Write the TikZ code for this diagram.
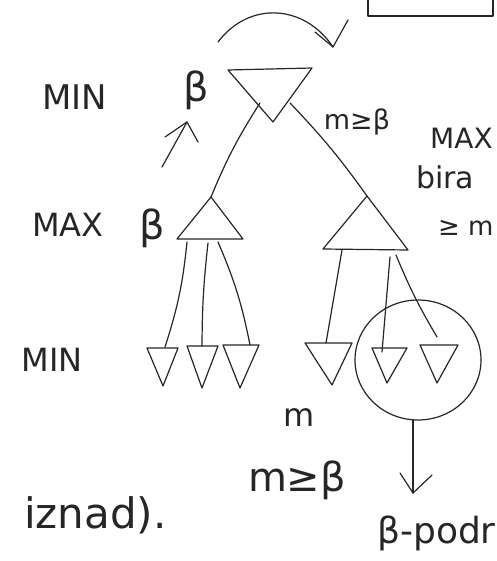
\documentclass[tikz,border=0pt]{standalone}
\usepackage{fontspec}
\setmainfont{DejaVu Sans}
\begin{document}
\begin{tikzpicture}[x=1pt,y=-1pt,line cap=round,line join=round,
  hand/.style={draw=black!85,line width=1.2pt},
  lbl/.style={inner sep=0pt,text=black!85},
  big/.style={lbl,font=\fontsize{34}{40}\selectfont},
  mid/.style={lbl,font=\fontsize{30}{36}\selectfont},
  greek/.style={lbl,font=\fontsize{40}{46}\selectfont}]
\useasboundingbox (0,0) rectangle (496,561);
\clip (0,0) rectangle (496,561);

% rectangle at top right (cut)
\draw[hand] (368,-5) -- (368,16) -- (493,16) -- (493,-5);

% curved arrow
\coordinate (cs) at (218,42);
\coordinate (ct) at (333,47);
\draw[hand] (cs) .. controls (250,0) and (305,5) .. (ct);
\draw[hand] (315,32) -- (ct) -- (348,20);

% root MIN triangle
\coordinate (rA) at (228,70);
\coordinate (rB) at (312,68);
\coordinate (rC) at (273,122);
\draw[hand] (rA) -- (rB) -- (rC) -- cycle;
\coordinate (r1) at (260,103);
\coordinate (r2) at (290,103);

% left MAX
\coordinate (lA) at (211,197);
\coordinate (lB) at (177,239);
\coordinate (lC) at (243,239);
\draw[hand] (lA) -- (lB) -- (lC) -- cycle;
% right MAX
\coordinate (mA) at (367,196);
\coordinate (mB) at (323,249);
\coordinate (mC) at (408,250);
\draw[hand] (mA) -- (mB) -- (mC) -- cycle;

\draw[hand] (r1) to[bend right=5] (lA);
\draw[hand] (r2) to[bend left=4] (mA);

% bottom MIN triangles
\foreach \n/\a/\b/\c/\ty/\tx/\tt in {1/147/178/163/348/163/386, 2/187/218/202/346/202/388, 3/223/259/240/345/240/388,
  4/305/352/332/343/332/385, 5/372/407/387/348/387/383, 6/420/458/437/345/437/383}{
  \coordinate (t\n L) at (\a,\ty);
  \coordinate (t\n R) at (\b,\ty);
  \coordinate (t\n B) at (\tx,\tt);
  \draw[hand] (t\n L) -- (t\n R) -- (t\n B) -- cycle;
}
\coordinate (t1T) at (165,347);
\coordinate (t2T) at (202,346);
\coordinate (t3T) at (250,345);
\coordinate (t4T) at (326,343);
\coordinate (t5T) at (382,352);
\coordinate (t6T) at (437,337);

\coordinate (l1) at (187,242);
\coordinate (l2) at (208,243);
\coordinate (l3) at (218,242);
\coordinate (m1) at (342,250);
\coordinate (m2) at (390,257);
\coordinate (m3) at (396,255);
\draw[hand] (l1) to[bend left=6] (t1T);
\draw[hand] (l2) to[bend right=3] (t2T);
\draw[hand] (l3) to[bend left=6] (t3T);
\draw[hand] (m1) -- (t4T);
\draw[hand] (m2) -- (t5T);
\draw[hand] (m3) to[bend right=4] (t6T);

% circle and arrow down
\draw[hand] (418,360) ellipse [x radius=63, y radius=60];
\coordinate (cb) at (413,420);
\coordinate (ab) at (413,493);
\draw[hand] (cb) -- (ab);
\draw[hand] (400,473) -- (ab) -- (432,475);

% small arrow near root beta
\coordinate (sa) at (162,167);
\coordinate (sb) at (187,122);
\draw[hand] (sa) -- (sb);
\draw[hand] (165,137) -- (sb) -- (198,142);

% labels
\node[big] (minT) at (75,97) {MIN};
\node[greek] (b1) at (196,90) {β};
\node[lbl,font=\fontsize{27}{32}\selectfont] (mgb1) at (357,122) {m≥β};
\node[lbl,font=\fontsize{28}{34}\selectfont,anchor=west] (maxR) at (430,138) {MAX};
\node[mid,anchor=west] (bira) at (416,177) {bira};
\node[lbl,font=\fontsize{26}{32}\selectfont,anchor=west] (gm) at (438,228) {≥ m};
\node[big,font=\fontsize{32}{38}\selectfont] (maxL) at (68,225) {MAX};
\node[greek] (b2) at (152,228) {β};
\node[big,font=\fontsize{32}{38}\selectfont] (minB) at (52,360) {MIN};
\node[lbl,font=\fontsize{32}{38}\selectfont] (msm) at (299,418) {m};
\node[greek] (mgb2) at (297,480) {m≥β};
\node[lbl,font=\fontsize{42}{48}\selectfont,anchor=west] (izn) at (24,515) {iznad).};
\node[lbl,font=\fontsize{36}{42}\selectfont,anchor=west] (bp) at (377,533) {β-podr};
\end{tikzpicture}
\end{document}
